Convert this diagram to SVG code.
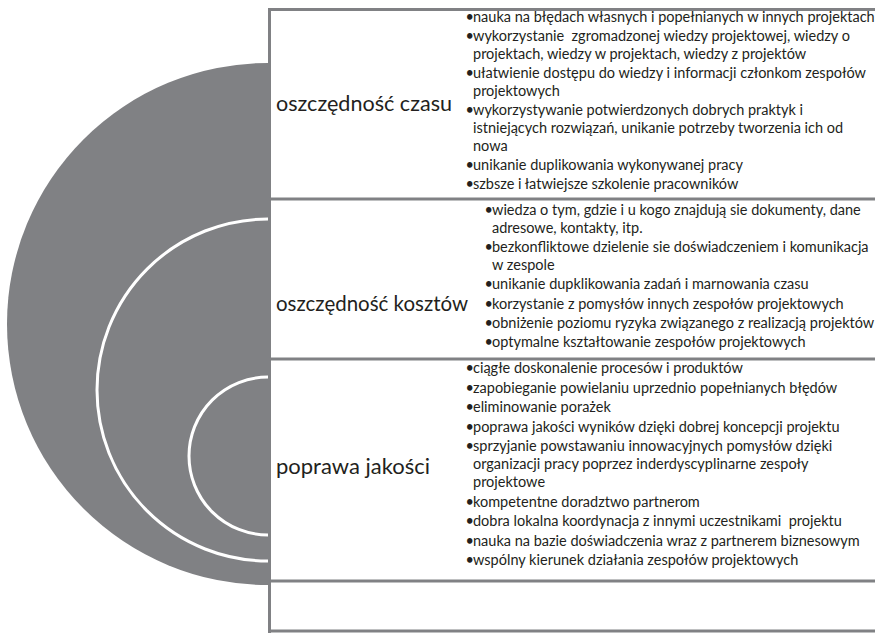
<svg xmlns="http://www.w3.org/2000/svg" width="875" height="633" viewBox="0 0 875 633">
  <style>
    .frame { fill: none; stroke: #808184; stroke-width: 3; }
    .ring { fill: none; stroke: #ffffff; stroke-width: 3; }
    .label { font-family: Lato, "Open Sans", sans-serif; font-size: 21.5px; fill: #231f20; }
    .item { font-family: Lato, "Open Sans", sans-serif; font-size: 14.5px; fill: #231f20; }
  </style>

  <rect width="875" height="633" fill="#ffffff"/>

  <!-- left half-disc with white arcs -->
  <g id="disc">
    <path d="M268,63 A261,261 0 0 0 268,585 Z" fill="#808184"/>
    <path class="ring" d="M268,219 A171,171 0 0 0 268,561"/>
    <path class="ring" d="M268,377 A79,79 0 0 0 268,535"/>
  </g>

  <!-- table frame -->
  <g id="connectors">
    <line class="frame" x1="269.5" y1="9.5" x2="875" y2="9.5"/>
    <line class="frame" x1="269.5" y1="8" x2="269.5" y2="633"/>
    <line class="frame" x1="269.5" y1="199" x2="875" y2="199"/>
    <line class="frame" x1="269.5" y1="359" x2="875" y2="359"/>
    <line class="frame" x1="269.5" y1="581" x2="875" y2="581"/>
    <line class="frame" x1="269.5" y1="631" x2="875" y2="631"/>
  </g>

  <g id="row-czas">
    <text class="label" x="276" y="111" textLength="176" lengthAdjust="spacingAndGlyphs">oszczędność czasu</text>
    <g class="item">
      <text x="465.5" y="22">•</text><text x="473" y="22">nauka na błędach własnych i popełnianych w innych projektach</text>
      <text x="465.5" y="41">•</text><text x="473" y="41" xml:space="preserve">wykorzystanie  zgromadzonej wiedzy projektowej, wiedzy o</text>
      <text x="473" y="59">projektach, wiedzy w projektach, wiedzy z projektów</text>
      <text x="465.5" y="78">•</text><text x="473" y="78">ułatwienie dostępu do wiedzy i informacji członkom zespołów</text>
      <text x="473" y="96">projektowych</text>
      <text x="465.5" y="115">•</text><text x="473" y="115">wykorzystywanie potwierdzonych dobrych praktyk i</text>
      <text x="473" y="133">istniejących rozwiązań, unikanie potrzeby tworzenia ich od</text>
      <text x="473" y="151">nowa</text>
      <text x="465.5" y="170">•</text><text x="473" y="170">unikanie duplikowania wykonywanej pracy</text>
      <text x="465.5" y="189">•</text><text x="473" y="189">szbsze i łatwiejsze szkolenie pracowników</text>
    </g>
  </g>

  <g id="row-koszty">
    <text class="label" x="276" y="311" textLength="192" lengthAdjust="spacingAndGlyphs">oszczędność kosztów</text>
    <g class="item">
      <text x="484.5" y="215">•</text><text x="492" y="215">wiedza o tym, gdzie i u kogo znajdują sie dokumenty, dane</text>
      <text x="492" y="233">adresowe, kontakty, itp.</text>
      <text x="484.5" y="252">•</text><text x="492" y="252">bezkonfliktowe dzielenie sie doświadczeniem i komunikacja</text>
      <text x="492" y="270">w zespole</text>
      <text x="484.5" y="289">•</text><text x="492" y="289">unikanie dupklikowania zadań i marnowania czasu</text>
      <text x="484.5" y="309">•</text><text x="492" y="309">korzystanie z pomysłów innych zespołów projektowych</text>
      <text x="484.5" y="328">•</text><text x="492" y="328">obniżenie poziomu ryzyka związanego z realizacją projektów</text>
      <text x="484.5" y="347">•</text><text x="492" y="347">optymalne kształtowanie zespołów projektowych</text>
    </g>
  </g>

  <g id="row-jakosc">
    <text class="label" x="276" y="474" textLength="154" lengthAdjust="spacingAndGlyphs">poprawa jakości</text>
    <g class="item">
      <text x="465.5" y="373">•</text><text x="473" y="373">ciągłe doskonalenie procesów i produktów</text>
      <text x="465.5" y="392.5">•</text><text x="473" y="392.5">zapobieganie powielaniu uprzednio popełnianych błędów</text>
      <text x="465.5" y="412">•</text><text x="473" y="412">eliminowanie porażek</text>
      <text x="465.5" y="431.5">•</text><text x="473" y="431.5">poprawa jakości wyników dzięki dobrej koncepcji projektu</text>
      <text x="465.5" y="451">•</text><text x="473" y="451">sprzyjanie powstawaniu innowacyjnych pomysłów dzięki</text>
      <text x="473" y="469">organizacji pracy poprzez inderdyscyplinarne zespoły</text>
      <text x="473" y="487">projektowe</text>
      <text x="465.5" y="506.5">•</text><text x="473" y="506.5">kompetentne doradztwo partnerom</text>
      <text x="465.5" y="526">•</text><text x="473" y="526" xml:space="preserve">dobra lokalna koordynacja z innymi uczestnikami  projektu</text>
      <text x="465.5" y="545.5">•</text><text x="473" y="545.5">nauka na bazie doświadczenia wraz z partnerem biznesowym</text>
      <text x="465.5" y="565">•</text><text x="473" y="565">wspólny kierunek działania zespołów projektowych</text>
    </g>
  </g>

  <g id="row-empty"></g>
</svg>
